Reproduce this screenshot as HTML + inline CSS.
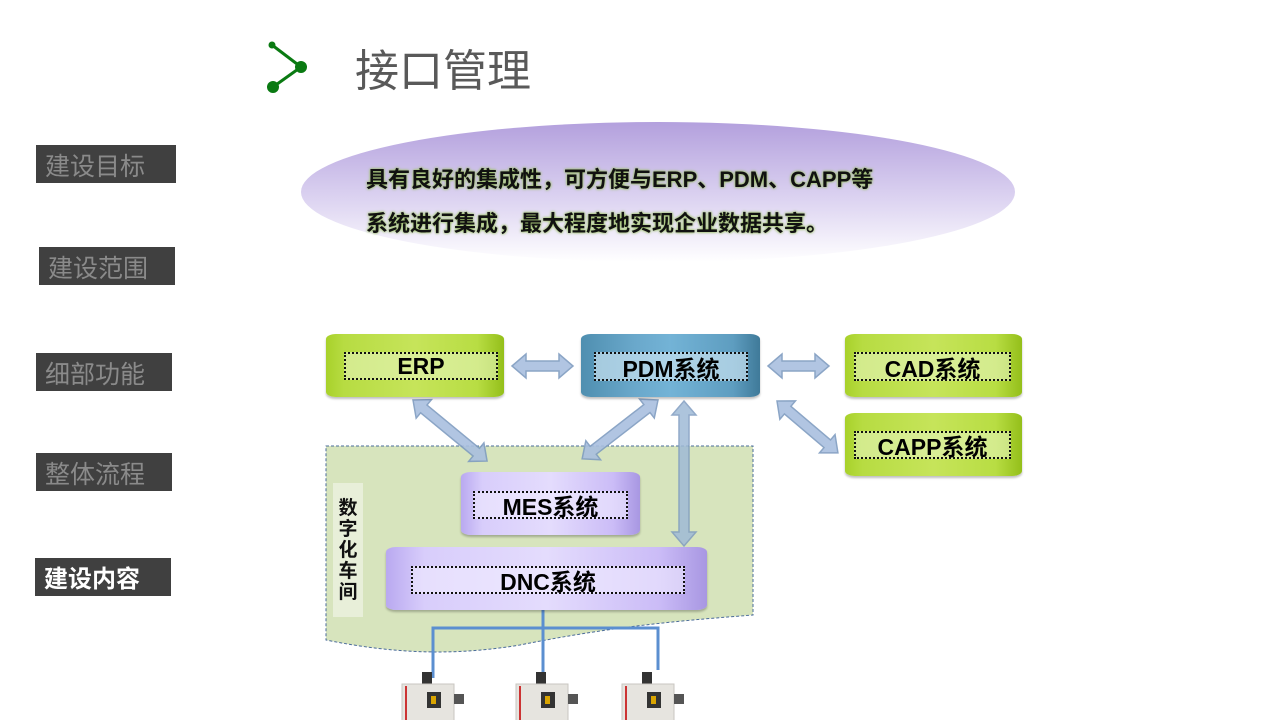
<!DOCTYPE html>
<html><head><meta charset="utf-8"><style>
body{margin:0;width:1280px;height:720px;background:#fff;position:relative;overflow:hidden;font-family:"Liberation Sans","Noto Sans CJK SC",sans-serif}
.side{position:absolute;background:#404040;color:#8a8a8a;font-size:25px;line-height:44px;height:38px;padding-left:9px;box-sizing:border-box;overflow:hidden}
.cyl{position:absolute;border-radius:10px/5px;box-shadow:0 2px 2px rgba(0,0,0,.25)}
.cyl .in{position:absolute;border:2px dotted #111;font-weight:bold;font-size:23px;color:#000;text-align:center;box-sizing:border-box;display:flex;align-items:center;justify-content:center}
.g{background:linear-gradient(90deg,#a8d12a 0%,#b7dc42 10%,#c6e45a 50%,#b8dd43 85%,#94bf1a 100%)}
.g .in{background:rgba(230,245,190,.6)}
.b{background:linear-gradient(90deg,#4f8fb0 0%,#6aa8cb 30%,#73b3d6 50%,#5e9dc0 85%,#3f7a99 100%)}
.b .in{background:rgba(200,225,240,.7)}
.p{background:linear-gradient(90deg,#b9a9f0 0%,#d8cdfb 12%,#e4dcfd 50%,#cbbcf7 85%,#a897e2 100%)}
.p .in{background:rgba(240,235,255,.6)}
.txt{position:absolute;font-weight:bold;font-size:22px;color:#111;text-shadow:0 0 3px #9fc36a,0 0 2px #9fc36a;white-space:nowrap}
</style></head><body>
<svg width="1280" height="720" style="position:absolute;left:0;top:0">
<defs>
<linearGradient id="el" x1="0" y1="0" x2="0" y2="1"><stop offset="0" stop-color="#b3a0dd"/><stop offset="0.55" stop-color="#dcd3f1"/><stop offset="1" stop-color="#fff"/></linearGradient>
</defs>
<line x1="272" y1="45" x2="301" y2="67" stroke="#0a7a12" stroke-width="3"/>
<line x1="301" y1="67" x2="273" y2="87" stroke="#0a7a12" stroke-width="3"/>
<circle cx="272" cy="45" r="3.5" fill="#0a7a12"/><circle cx="301" cy="67" r="6" fill="#0a7a12"/><circle cx="273" cy="87" r="6" fill="#0a7a12"/>
<ellipse cx="658" cy="192" rx="357" ry="70" fill="url(#el)"/>
<path d="M326,446 L753,446 L753,615 C690,620 620,625 520,645 C460,655 400,655 326,640 Z" fill="#d7e4bd" stroke="#4a6b9a" stroke-width="1" stroke-dasharray="3,2"/>
<rect x="333" y="483" width="30" height="134" fill="#e8efd9"/>
<g fill="#a9bfdf" stroke="#7f9cc0" stroke-width="1.5" opacity="0.9">
<polygon transform="translate(512,366)" points="0,0 14,-12 14,-5 47,-5 47,-12 61,0 47,12 47,5 14,5 14,12"/>
<polygon transform="translate(768,366)" points="0,0 14,-12 14,-5 47,-5 47,-12 61,0 47,12 47,5 14,5 14,12"/>
<polygon transform="translate(413,400) rotate(39.5)" points="0,0 14,-12 14,-5 82,-5 82,-12 96,0 82,12 82,5 14,5 14,12"/>
<polygon transform="translate(658,400) rotate(142.2)" points="0,0 14,-12 14,-5 82,-5 82,-12 96,0 82,12 82,5 14,5 14,12"/>
<polygon transform="translate(777,401) rotate(40.4)" points="0,0 14,-12 14,-5 66,-5 66,-12 80,0 66,12 66,5 14,5 14,12"/>
</g>
<g stroke="#5b8fd0" stroke-width="3" fill="none">
<line x1="543" y1="605" x2="543" y2="680"/>
<polyline points="433,678 433,628 658,628 658,670"/>
</g>
<g>
<g transform="translate(402,672)"><rect x="20" y="0" width="10" height="12" fill="#333"/><rect x="0" y="12" width="52" height="40" fill="#e6e4df" stroke="#c8c6c0"/><rect x="3" y="14" width="2" height="36" fill="#c33"/><rect x="25" y="20" width="14" height="16" fill="#333"/><rect x="29" y="24" width="5" height="8" fill="#d9a400"/><rect x="52" y="22" width="10" height="10" fill="#555"/></g>
<g transform="translate(516,672)"><rect x="20" y="0" width="10" height="12" fill="#333"/><rect x="0" y="12" width="52" height="40" fill="#e6e4df" stroke="#c8c6c0"/><rect x="3" y="14" width="2" height="36" fill="#c33"/><rect x="25" y="20" width="14" height="16" fill="#333"/><rect x="29" y="24" width="5" height="8" fill="#d9a400"/><rect x="52" y="22" width="10" height="10" fill="#555"/></g>
<g transform="translate(622,672)"><rect x="20" y="0" width="10" height="12" fill="#333"/><rect x="0" y="12" width="52" height="40" fill="#e6e4df" stroke="#c8c6c0"/><rect x="3" y="14" width="2" height="36" fill="#c33"/><rect x="25" y="20" width="14" height="16" fill="#333"/><rect x="29" y="24" width="5" height="8" fill="#d9a400"/><rect x="52" y="22" width="10" height="10" fill="#555"/></g>
</g>
</svg>
<div style="position:absolute;left:355px;top:42px;font-size:44px;color:#595959;line-height:60px">接口管理</div>
<div class="side" style="left:36px;top:145px;width:140px">建设目标</div>
<div class="side" style="left:39px;top:247px;width:136px">建设范围</div>
<div class="side" style="left:36px;top:353px;width:136px">细部功能</div>
<div class="side" style="left:36px;top:453px;width:136px">整体流程</div>
<div class="side" style="left:35px;top:558px;width:136px;color:#fff;font-weight:bold;font-size:24px">建设内容</div>
<div class="txt" style="left:366px;top:162px">具有良好的集成性，可方便与ERP、PDM、CAPP等</div>
<div class="txt" style="left:366px;top:206px">系统进行集成，最大程度地实现企业数据共享。</div>
<div style="position:absolute;left:336px;top:498px;width:24px;font-weight:bold;font-size:19px;line-height:21px;color:#111;text-align:center">数<br>字<br>化<br>车<br>间</div>
<div class="cyl g" style="left:326px;top:334px;width:178px;height:63px"><div class="in" style="left:18px;top:18px;width:154px;height:28px">ERP</div></div>
<div class="cyl b" style="left:581px;top:334px;width:179px;height:63px"><div class="in" style="left:13px;top:18px;width:154px;height:29px">PDM系统</div></div>
<div class="cyl g" style="left:845px;top:334px;width:177px;height:63px"><div class="in" style="left:9px;top:18px;width:157px;height:29px">CAD系统</div></div>
<div class="cyl g" style="left:845px;top:413px;width:177px;height:63px"><div class="in" style="left:9px;top:18px;width:157px;height:28px">CAPP系统</div></div>
<div class="cyl p" style="left:461px;top:472px;width:179px;height:63px"><div class="in" style="left:12px;top:19px;width:155px;height:28px">MES系统</div></div>
<div class="cyl p" style="left:386px;top:547px;width:321px;height:63px"><div class="in" style="left:25px;top:19px;width:274px;height:28px">DNC系统</div></div>
<svg width="1280" height="720" style="position:absolute;left:0;top:0;pointer-events:none">
<polygon transform="translate(684,401) rotate(90)" points="0,0 14,-12 14,-5 131,-5 131,-12 145,0 131,12 131,5 14,5 14,12" fill="#9fbad6" stroke="#7f9cc0" stroke-width="1.5" opacity="0.85"/>
</svg>
</body></html>
